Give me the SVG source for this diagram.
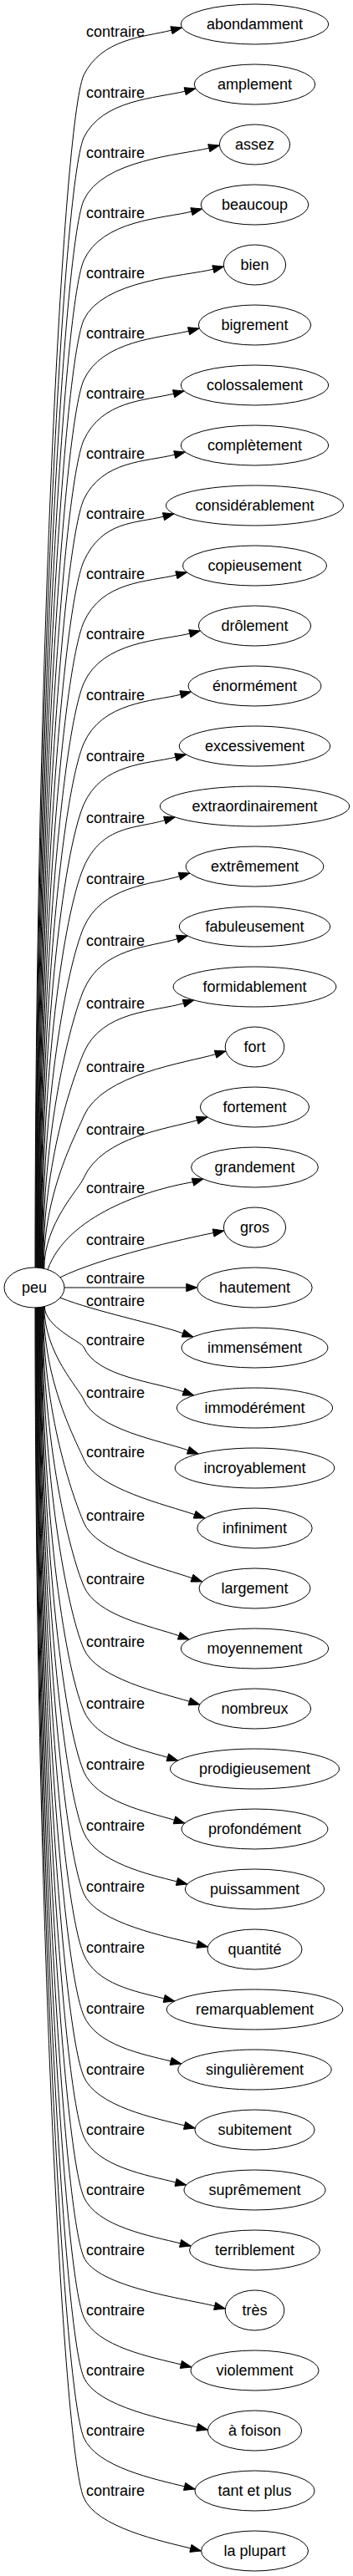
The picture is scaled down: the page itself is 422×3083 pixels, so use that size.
<svg xmlns="http://www.w3.org/2000/svg" width="422" height="3083" viewBox="0 0 422 3083">
<style>
text{font-family:"Liberation Sans",Arial,sans-serif;font-size:18px;text-anchor:middle;fill:#000}
.n ellipse{fill:none;stroke:#000;stroke-width:1}
.e path{fill:none;stroke:#000;stroke-width:1}
.e polygon{fill:#000;stroke:#000;stroke-width:1}
</style>
<rect x="0" y="0" width="422" height="3083" fill="#fff"/>
<g id="edges" class="e">
<g id="e0"><path d="M42,1517 C42,803.5 75,150 100,90 C122,46 171,44.6 205,36.2"/><polygon points="217.6,33 206.1,40.7 203.9,31.7"/><text x="138" y="44">contraire</text></g>
<g id="e1"><path d="M42.6,1517 C42.6,841 75,225 100,165 C122,119 187.2,117.6 221.2,109.2"/><polygon points="233.8,106 222.3,113.7 220.1,104.7"/><text x="138" y="117">contraire</text></g>
<g id="e2"><path d="M43.2,1517 C43.2,878.5 75,300 100,240 C122,191 215.8,185.6 249.8,177.2"/><polygon points="262.4,174 250.9,181.7 248.7,172.7"/><text x="138" y="189">contraire</text></g>
<g id="e3"><path d="M43.8,1517 C43.8,914.5 75,372 100,312 C122,263 195,261.6 229,253.2"/><polygon points="241.6,250 230.1,257.7 227.9,248.7"/><text x="138" y="261">contraire</text></g>
<g id="e4"><path d="M44.4,1517 C44.4,950 75,443 100,383 C122,335 220.9,330.6 254.9,322.2"/><polygon points="267.5,319 256,326.7 253.8,317.7"/><text x="138" y="333">contraire</text></g>
<g id="e5"><path d="M45,1517 C45,986 75,515 100,455 C122,407 191.6,404.6 225.6,396.2"/><polygon points="238.2,393 226.7,400.7 224.5,391.7"/><text x="138" y="405">contraire</text></g>
<g id="e6"><path d="M45.6,1517 C45.6,1022 75,587 100,527 C122,479 173.6,479.6 207.6,471.2"/><polygon points="220.2,468 208.7,475.7 206.5,466.7"/><text x="138" y="477">contraire</text></g>
<g id="e7"><path d="M46.2,1517.4 C46.2,1057.7 75,658 100,598 C122,551 174.8,552.6 208.8,544.2"/><polygon points="221.4,541 209.9,548.7 207.7,539.7"/><text x="138" y="549">contraire</text></g>
<g id="e8"><path d="M46.8,1517.4 C46.8,1094.7 75,732 100,672 C122,623 161.5,626.6 195.5,618.2"/><polygon points="208.1,615 196.6,622.7 194.4,613.7"/><text x="138" y="621">contraire</text></g>
<g id="e9"><path d="M47.4,1517.4 C47.4,1131.2 75,805 100,745 C122,695 176.9,696.6 210.9,688.2"/><polygon points="223.5,685 212,692.7 209.8,683.7"/><text x="138" y="693">contraire</text></g>
<g id="e10"><path d="M48,1517.4 C48,1167.7 75,878 100,818 C122,767 192.8,766.6 226.8,758.2"/><polygon points="239.4,755 227.9,762.7 225.7,753.7"/><text x="138" y="765">contraire</text></g>
<g id="e11"><path d="M48.6,1517.4 C48.6,1203.7 75,950 100,890 C122,840 182,839.6 216,831.2"/><polygon points="228.6,828 217.1,835.7 214.9,826.7"/><text x="138" y="838">contraire</text></g>
<g id="e12"><path d="M49.2,1517.4 C49.2,1240.2 75,1023 100,963 C122,913 175.9,914.6 209.9,906.2"/><polygon points="222.5,903 211,910.7 208.8,901.7"/><text x="138" y="911">contraire</text></g>
<g id="e13"><path d="M49.8,1518 C49.8,1278 76,1095.6 100,1038 C122,987 163.3,991.8 196.9,981.7"/><polygon points="209.3,978 198.2,986.2 195.6,977.2"/><text x="138" y="985">contraire</text></g>
<g id="e14"><path d="M50.4,1518 C50.4,1314 79.6,1159 100,1110 C122,1060 180.9,1058.8 214.5,1048.7"/><polygon points="226.9,1045 215.8,1053.2 213.2,1044.2"/><text x="138" y="1058">contraire</text></g>
<g id="e15"><path d="M51,1518 C51,1351.5 83.4,1225 100,1185 C122,1134 178.3,1133.8 211.9,1123.7"/><polygon points="224.3,1120 213.2,1128.2 210.6,1119.2"/><text x="138" y="1132">contraire</text></g>
<g id="e16"><path d="M51.6,1518 C51.6,1389 87.1,1291 100,1260 C122,1209 185.9,1210.8 219.5,1200.7"/><polygon points="231.9,1197 220.8,1205.2 218.2,1196.2"/><text x="138" y="1207">contraire</text></g>
<g id="e17"><path d="M52.2,1518 C52.2,1427 90.9,1357.8 100,1336 C122,1285 224,1271.8 257.6,1261.7"/><polygon points="270,1258 258.9,1266.2 256.3,1257.2"/><text x="138" y="1283">contraire</text></g>
<g id="e18"><path d="M52.8,1518.3 C52.8,1464.2 94.6,1423 100,1410 C122,1360 202.1,1350.8 235.7,1340.7"/><polygon points="248.1,1337 237,1345.2 234.4,1336.2"/><text x="138" y="1358">contraire</text></g>
<g id="e19"><path d="M57,1519.5 C80,1455 175,1424 230.5,1414.7"/><polygon points="242.9,1411 231.8,1419.2 229.2,1410.2"/><text x="138" y="1428">contraire</text></g>
<g id="e20"><path d="M72,1528.8 C120,1505 220.8,1482.4 255.1,1475.5"/><polygon points="267.9,1473 256,1480.1 254.2,1470.9"/><text x="138" y="1490">contraire</text></g>
<g id="e21"><path d="M77,1541 L222.8,1541"/><polygon points="235.8,1541 222.8,1545.7 222.8,1536.3"/><text x="138" y="1536">contraire</text></g>
<g id="e22"><path d="M72,1553.2 C115,1570 185.7,1584.2 218.7,1595.7"/><polygon points="231,1600 217.2,1600.1 220.2,1591.3"/><text x="138" y="1563">contraire</text></g>
<g id="e23"><path d="M53.4,1564 C53.4,1588 97.6,1606.2 100,1612 C115,1648 186.5,1654.2 219.5,1665.7"/><polygon points="231.8,1670 218,1670.1 221,1661.3"/><text x="138" y="1610">contraire</text></g>
<g id="e24"><path d="M52.8,1564 C52.8,1619.5 94.5,1661.7 100,1675 C115,1711 191.9,1724.2 224.9,1735.7"/><polygon points="237.2,1740 223.4,1740.1 226.4,1731.3"/><text x="138" y="1673">contraire</text></g>
<g id="e25"><path d="M52.2,1564 C52.2,1655 90.9,1724.2 100,1746 C115,1782 199.7,1801.2 232.7,1812.7"/><polygon points="245,1817 231.2,1817.1 234.2,1808.3"/><text x="138" y="1744">contraire</text></g>
<g id="e26"><path d="M51.6,1564 C51.6,1693 87.1,1791 100,1822 C115,1858 196.5,1877.2 229.5,1888.7"/><polygon points="241.8,1893 228,1893.1 231,1884.3"/><text x="138" y="1820">contraire</text></g>
<g id="e27"><path d="M51,1564 C51,1731 83.3,1857.9 100,1898 C115,1934 180.9,1946.2 213.9,1957.7"/><polygon points="226.2,1962 212.4,1962.1 215.4,1953.3"/><text x="138" y="1896">contraire</text></g>
<g id="e28"><path d="M50.4,1564.5 C50.4,1768.8 79.6,1924 100,1973 C115,2009 192.8,2026.2 226.4,2036.3"/><polygon points="238.8,2040 225.1,2040.8 227.7,2031.8"/><text x="138" y="1971">contraire</text></g>
<g id="e29"><path d="M49.8,1564.5 C49.8,1805.8 75.9,1989.1 100,2047 C115,2083 166.7,2093.2 200.3,2103.3"/><polygon points="212.7,2107 199,2107.8 201.6,2098.8"/><text x="138" y="2045">contraire</text></g>
<g id="e30"><path d="M49.2,1564.5 C49.2,1842.2 75,2060 100,2120 C115,2156 174.9,2168.2 208.5,2178.3"/><polygon points="220.9,2182 207.2,2182.8 209.8,2173.8"/><text x="138" y="2118">contraire</text></g>
<g id="e31"><path d="M48.6,1564.5 C48.6,1878.8 75,2133 100,2193 C115,2229 177.5,2243.4 211.5,2251.9"/><polygon points="224.1,2255 210.4,2256.4 212.6,2247.4"/><text x="138" y="2191">contraire</text></g>
<g id="e32"><path d="M48,1564.5 C48,1915.2 75,2206 100,2266 C115,2302 201.9,2318.4 235.9,2326.9"/><polygon points="248.5,2330 234.8,2331.4 237,2322.4"/><text x="138" y="2264">contraire</text></g>
<g id="e33"><path d="M47.4,1564.5 C47.4,1951.8 75,2279 100,2339 C115,2375 162.2,2383.4 196.2,2391.9"/><polygon points="208.8,2395 195.1,2396.4 197.3,2387.4"/><text x="138" y="2337">contraire</text></g>
<g id="e34"><path d="M46.8,1564.5 C46.8,1988.2 75,2352 100,2412 C115,2448 170.2,2458.4 204.2,2466.9"/><polygon points="216.8,2470 203.1,2471.4 205.3,2462.4"/><text x="138" y="2410">contraire</text></g>
<g id="e35"><path d="M46.2,1565 C46.2,2025 75,2425 100,2485 C115,2521 186.6,2535.4 220.6,2543.9"/><polygon points="233.2,2547 219.5,2548.4 221.7,2539.4"/><text x="138" y="2483">contraire</text></g>
<g id="e36"><path d="M45.6,1565 C45.6,2061 75,2497 100,2557 C115,2593 176.1,2603.4 210.1,2611.9"/><polygon points="222.7,2615 209,2616.4 211.2,2607.4"/><text x="138" y="2555">contraire</text></g>
<g id="e37"><path d="M45,1565 C45,2097 75,2569 100,2629 C115,2665 181.6,2676.4 215.6,2684.9"/><polygon points="228.2,2688 214.5,2689.4 216.7,2680.4"/><text x="138" y="2627">contraire</text></g>
<g id="e38"><path d="M44.4,1565 C44.4,2133 75,2641 100,2701 C115,2737 222.7,2751.4 256.7,2759.9"/><polygon points="269.3,2763 255.6,2764.4 257.8,2755.4"/><text x="138" y="2699">contraire</text></g>
<g id="e39"><path d="M43.8,1565 C43.8,2169 75,2713 100,2773 C115,2809 182.4,2821.4 216.4,2829.9"/><polygon points="229,2833 215.3,2834.4 217.5,2825.4"/><text x="138" y="2771">contraire</text></g>
<g id="e40"><path d="M43.2,1565 C43.2,2205 75,2785 100,2845 C115,2881 201.8,2896.4 235.8,2904.9"/><polygon points="248.4,2908 234.7,2909.4 236.9,2900.4"/><text x="138" y="2843">contraire</text></g>
<g id="e41"><path d="M42.6,1565 C42.6,2241 75,2857 100,2917 C115,2953 186.6,2967.4 220.6,2975.9"/><polygon points="233.2,2979 219.5,2980.4 221.7,2971.4"/><text x="138" y="2915">contraire</text></g>
<g id="e42"><path d="M42,1565 C42,2277 75,2929 100,2989 C115,3025 193.9,3041.4 227.9,3049.9"/><polygon points="240.5,3053 226.8,3054.4 229,3045.4"/><text x="138" y="2987">contraire</text></g>
</g>
<g id="peu" class="n"><ellipse cx="41" cy="1541" rx="36" ry="24"/><text x="41" y="1547">peu</text></g>
<g id="n0" class="n"><ellipse cx="304.5" cy="29" rx="88.1" ry="24"/><text x="304.5" y="35">abondamment</text></g>
<g id="n1" class="n"><ellipse cx="304.5" cy="101" rx="72.3" ry="24"/><text x="304.5" y="107">amplement</text></g>
<g id="n2" class="n"><ellipse cx="304.5" cy="173" rx="42.1" ry="24"/><text x="304.5" y="179">assez</text></g>
<g id="n3" class="n"><ellipse cx="304.5" cy="245" rx="64.3" ry="24"/><text x="304.5" y="251">beaucoup</text></g>
<g id="n4" class="n"><ellipse cx="304.5" cy="317" rx="37.1" ry="24"/><text x="304.5" y="323">bien</text></g>
<g id="n5" class="n"><ellipse cx="304.5" cy="389" rx="67.2" ry="24"/><text x="304.5" y="395">bigrement</text></g>
<g id="n6" class="n"><ellipse cx="304.5" cy="461" rx="88.1" ry="24"/><text x="304.5" y="467">colossalement</text></g>
<g id="n7" class="n"><ellipse cx="304.5" cy="533" rx="88.1" ry="24"/><text x="304.5" y="539">complètement</text></g>
<g id="n8" class="n"><ellipse cx="304.5" cy="605" rx="106" ry="24"/><text x="304.5" y="611">considérablement</text></g>
<g id="n9" class="n"><ellipse cx="304.5" cy="677" rx="85.9" ry="24"/><text x="304.5" y="683">copieusement</text></g>
<g id="n10" class="n"><ellipse cx="304.5" cy="749" rx="67.2" ry="24"/><text x="304.5" y="755">drôlement</text></g>
<g id="n11" class="n"><ellipse cx="304.5" cy="821" rx="79.4" ry="24"/><text x="304.5" y="827">énormément</text></g>
<g id="n12" class="n"><ellipse cx="304.5" cy="893" rx="90.2" ry="24"/><text x="304.5" y="899">excessivement</text></g>
<g id="n13" class="n"><ellipse cx="304.5" cy="965" rx="113.2" ry="24"/><text x="304.5" y="971">extraordinairement</text></g>
<g id="n14" class="n"><ellipse cx="304.5" cy="1037" rx="82.3" ry="24"/><text x="304.5" y="1043">extrêmement</text></g>
<g id="n15" class="n"><ellipse cx="304.5" cy="1109" rx="90.2" ry="24"/><text x="304.5" y="1115">fabuleusement</text></g>
<g id="n16" class="n"><ellipse cx="304.5" cy="1181" rx="97.4" ry="24"/><text x="304.5" y="1187">formidablement</text></g>
<g id="n17" class="n"><ellipse cx="304.5" cy="1253" rx="35.3" ry="24"/><text x="304.5" y="1259">fort</text></g>
<g id="n18" class="n"><ellipse cx="304.5" cy="1325" rx="65.1" ry="24"/><text x="304.5" y="1331">fortement</text></g>
<g id="n19" class="n"><ellipse cx="304.5" cy="1397" rx="75.9" ry="24"/><text x="304.5" y="1403">grandement</text></g>
<g id="n20" class="n"><ellipse cx="304.5" cy="1469" rx="37.1" ry="24"/><text x="304.5" y="1475">gros</text></g>
<g id="n21" class="n"><ellipse cx="304.5" cy="1541" rx="68.7" ry="24"/><text x="304.5" y="1547">hautement</text></g>
<g id="n22" class="n"><ellipse cx="304.5" cy="1613" rx="87.4" ry="24"/><text x="304.5" y="1619">immensément</text></g>
<g id="n23" class="n"><ellipse cx="304.5" cy="1685" rx="93.1" ry="24"/><text x="304.5" y="1691">immodérément</text></g>
<g id="n24" class="n"><ellipse cx="304.5" cy="1757" rx="95.3" ry="24"/><text x="304.5" y="1763">incroyablement</text></g>
<g id="n25" class="n"><ellipse cx="304.5" cy="1829" rx="68.7" ry="24"/><text x="304.5" y="1835">infiniment</text></g>
<g id="n26" class="n"><ellipse cx="304.5" cy="1901" rx="66.5" ry="24"/><text x="304.5" y="1907">largement</text></g>
<g id="n27" class="n"><ellipse cx="304.5" cy="1973" rx="88.1" ry="24"/><text x="304.5" y="1979">moyennement</text></g>
<g id="n28" class="n"><ellipse cx="304.5" cy="2045" rx="67.2" ry="24"/><text x="304.5" y="2051">nombreux</text></g>
<g id="n29" class="n"><ellipse cx="304.5" cy="2117" rx="101" ry="24"/><text x="304.5" y="2123">prodigieusement</text></g>
<g id="n30" class="n"><ellipse cx="304.5" cy="2189" rx="87.4" ry="24"/><text x="304.5" y="2195">profondément</text></g>
<g id="n31" class="n"><ellipse cx="304.5" cy="2261" rx="83.1" ry="24"/><text x="304.5" y="2267">puissamment</text></g>
<g id="n32" class="n"><ellipse cx="304.5" cy="2333" rx="56.5" ry="24"/><text x="304.5" y="2339">quantité</text></g>
<g id="n33" class="n"><ellipse cx="304.5" cy="2405" rx="105.3" ry="24"/><text x="304.5" y="2411">remarquablement</text></g>
<g id="n34" class="n"><ellipse cx="304.5" cy="2477" rx="91.7" ry="24"/><text x="304.5" y="2483">singulièrement</text></g>
<g id="n35" class="n"><ellipse cx="304.5" cy="2549" rx="71.6" ry="24"/><text x="304.5" y="2555">subitement</text></g>
<g id="n36" class="n"><ellipse cx="304.5" cy="2621" rx="84.5" ry="24"/><text x="304.5" y="2627">suprêmement</text></g>
<g id="n37" class="n"><ellipse cx="304.5" cy="2693" rx="78" ry="24"/><text x="304.5" y="2699">terriblement</text></g>
<g id="n38" class="n"><ellipse cx="304.5" cy="2765" rx="35.3" ry="24"/><text x="304.5" y="2771">très</text></g>
<g id="n39" class="n"><ellipse cx="304.5" cy="2837" rx="76.6" ry="24"/><text x="304.5" y="2843">violemment</text></g>
<g id="n40" class="n"><ellipse cx="304.5" cy="2909" rx="56.1" ry="24"/><text x="304.5" y="2915">à foison</text></g>
<g id="n41" class="n"><ellipse cx="304.5" cy="2981" rx="71.6" ry="24"/><text x="304.5" y="2987">tant et plus</text></g>
<g id="n42" class="n"><ellipse cx="304.5" cy="3053" rx="64" ry="24"/><text x="304.5" y="3059">la plupart</text></g>
</svg>
